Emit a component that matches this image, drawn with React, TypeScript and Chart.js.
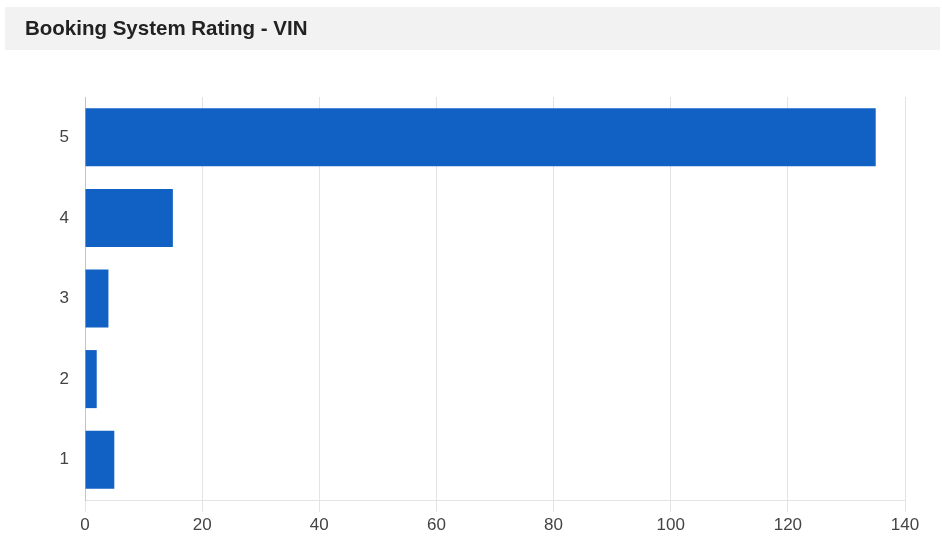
import React, { useEffect, useRef } from "react";
import { Chart, registerables } from "chart.js";

Chart.register(...registerables);

const title = "Booking System Rating - VIN";
const categories = ["5", "4", "3", "2", "1"];
const counts = [135, 15, 4, 2, 5];
const xTicks = [0, 20, 40, 60, 80, 100, 120, 140];

const titleBarPlugin = {
  id: "titleBar",
  beforeDraw(chart: any) {
    const ctx = chart.ctx;
    ctx.save();
    ctx.fillStyle = "#ffffff";
    ctx.fillRect(0, 0, chart.width, chart.height);
    ctx.fillStyle = "#f2f2f2";
    ctx.fillRect(5, 7, 935, 43);
    ctx.fillStyle = "#222222";
    ctx.font = "bold 20.5px Arial, 'Liberation Sans', sans-serif";
    ctx.textBaseline = "alphabetic";
    ctx.textAlign = "left";
    ctx.fillText(title, 25, 35);
    ctx.restore();
  },
};

export default function App() {
  const ref = useRef<HTMLCanvasElement>(null);
  useEffect(() => {
    if (!ref.current) return;
    const chart = new Chart(ref.current, {
      type: "bar",
      data: {
        labels: categories,
        datasets: [
          {
            data: counts,
            backgroundColor: "#1160c4",
            borderWidth: 0,
            categoryPercentage: 0.8,
            barPercentage: 0.9,
          },
        ],
      },
      options: {
        indexAxis: "y",
        responsive: false,
        animation: false,
        layout: { padding: { top: 97, right: 37, left: 0, bottom: 0 } },
        plugins: { legend: { display: false }, tooltip: { enabled: false }, title: { display: false } },
        scales: {
          x: {
            min: 0,
            max: 140,
            afterBuildTicks: (scale: any) => {
              scale.ticks = xTicks.map((v) => ({ value: v }));
            },
            afterFit: (scale: any) => {
              scale.height = 41;
            },
            grid: { color: "#e3e3e3", tickLength: 12, lineWidth: 1 },
            border: { display: true, color: "#e3e3e3" },
            ticks: {
              color: "#444444",
              padding: 3,
              font: { size: 17, family: "Arial, 'Liberation Sans', sans-serif" },
            },
          },
          y: {
            afterFit: (scale: any) => {
              scale.width = 85;
            },
            grid: { drawOnChartArea: false, drawTicks: false },
            border: { display: true, color: "#c4c4c4" },
            ticks: {
              color: "#444444",
              padding: 16,
              font: { size: 17, family: "Arial, 'Liberation Sans', sans-serif" },
            },
          },
        },
      },
      plugins: [titleBarPlugin],
    });
    return () => chart.destroy();
  }, []);
  return (
    <div style={{ position: "absolute", left: 0, top: 0, width: 942, height: 541 }}>
      <canvas ref={ref} width={942} height={541} />
    </div>
  );
}
